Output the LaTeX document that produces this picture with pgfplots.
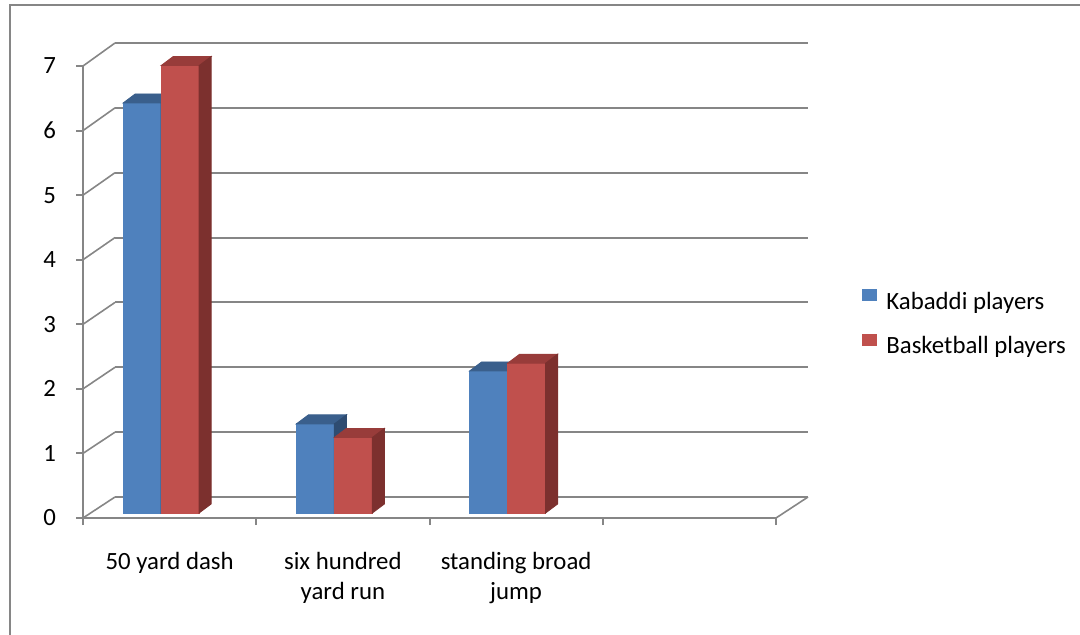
\documentclass[border=0pt]{standalone}
\usepackage{fontspec}
\setmainfont{Carlito}
\usepackage{pgfplots}
\pgfplotsset{compat=1.18}

\definecolor{kblue}{RGB}{79,129,189}
\definecolor{kbluetop}{RGB}{58,95,140}
\definecolor{kblueside}{RGB}{46,76,113}
\definecolor{bred}{RGB}{192,80,77}
\definecolor{bredtop}{RGB}{152,60,58}
\definecolor{bredside}{RGB}{124,48,46}
\definecolor{gridc}{RGB}{134,134,134}

% 1 px of the reference = 0.5pt
\pgfplotsset{
  panel/.style={scale only axis, width=346.5pt, height=226pt, anchor=south west,
    xmin=-0.5, xmax=3.5, ymin=0, ymax=7, clip=false},
  sq legend/.style={legend image code/.code={\fill[##1] (0pt,1.2pt) rectangle (7.5pt,7.2pt);}},
  % whole 3D bar (front, top, side), drawn at the data point
  box3d/.style n args={4}{forget plot, only marks, scatter, point meta=y,
    mark=*, mark size=0pt, mark options={draw=none, fill=none},
    visualization depends on={rawy \as \rawy},
    scatter/@pre marker code/.code={%
      \pgfmathsetlengthmacro\hh{\rawy*32.2857pt}%
      \fill[#4] (#1-9.5pt,0pt) rectangle (#1+9.5pt,-\hh);
      \fill[#2] (#1-9.5pt,0pt) -- (#1+9.5pt,0pt) -- (#1+15.5pt,4.5pt) -- (#1-3.5pt,4.5pt) -- cycle;
      \fill[#3] (#1+9.5pt,0pt) -- (#1+15.5pt,4.5pt) -- (#1+15.5pt,4.5pt-\hh) -- (#1+9.5pt,-\hh) -- cycle;
    },
    scatter/@post marker code/.code={}},
}

\begin{document}
\begin{tikzpicture}[font=\fontsize{12.4}{15}\selectfont]
\useasboundingbox (0,0) rectangle (540pt,-317.5pt);
\draw[gridc, line width=1pt] (5pt,-322pt) -- (5pt,-2.5pt) -- (545pt,-2.5pt);

% back wall with the grid
\begin{axis}[panel, at={(57.5pt,-248.5pt)}, height=227pt,
  axis line style={draw=none}, major tick length=0pt,
  xtick=\empty, ytick={0,...,7}, yticklabels={},
  ymajorgrids, major grid style={gridc, line width=1pt}]
\addplot[draw=none] coordinates {(0,0)};
\pgfplotsinvokeforeach{0,...,7}{\coordinate (b#1) at (axis cs:-0.5,#1);}
\coordinate (bend) at (axis cs:3.5,0);
\end{axis}

% front axes
\begin{axis}[panel, at={(41.5pt,-259pt)},
  axis x line=bottom, axis y line=left,
  axis line style={gridc, line width=1pt, -},
  tick style={gridc, line width=1pt}, tick align=outside, major tick length=3.5pt,
  /pgf/number format/assume math mode=true,
  ytick={0,...,7},
  y tick label style={xshift=-6.5pt},
  xtick={-0.5,0.5,1.5,2.5,3.5}, xticklabels={},
  extra x ticks={0,1,2},
  extra x tick labels={50 yard dash, six hundred\\yard run, standing broad\\jump},
  extra x tick style={major tick length=0pt},
  x tick label style={align=center, anchor=north, yshift=-13.5pt}]
\addplot[draw=none] coordinates {(0,0)};
\pgfplotsinvokeforeach{0,...,7}{\coordinate (f#1) at (axis cs:-0.5,#1);}
\coordinate (fend) at (axis cs:3.5,0);
\end{axis}
\foreach \k in {0,...,7} \draw[gridc, line width=0.8pt] (f\k) -- (b\k);
\draw[gridc, line width=0.8pt] (fend) -- (bend);

% bars
\begin{axis}[panel, at={(37.25pt,-256.5pt)}, hide axis,
  legend style={at={(axis description cs:1.1364,0.4962)}, anchor=north west,
    draw=none, fill=none, inner sep=0pt, row sep=9pt,
    nodes={inner sep=0pt, text height=9pt, text depth=3pt},
    /tikz/every odd column/.style={column sep=4.5pt}},
  legend cell align=left]
\addplot[ybar, bar width=19pt, bar shift=-9.5pt, fill=kblue, draw=none, sq legend]
  coordinates {(0,6.35) (1,1.38) (2,2.2)};
\addlegendentry{Kabaddi players}
\addplot[ybar, bar width=19pt, bar shift=9.5pt, fill=bred, draw=none, sq legend]
  coordinates {(0,6.93) (1,1.17) (2,2.32)};
\addlegendentry{Basketball players}
\addplot[box3d={-9.5pt}{kbluetop}{kblueside}{kblue}] coordinates {(0,6.35) (1,1.38) (2,2.2)};
\addplot[box3d={9.5pt}{bredtop}{bredside}{bred}] coordinates {(0,6.93) (1,1.17) (2,2.32)};
\end{axis}
\end{tikzpicture}
\end{document}
